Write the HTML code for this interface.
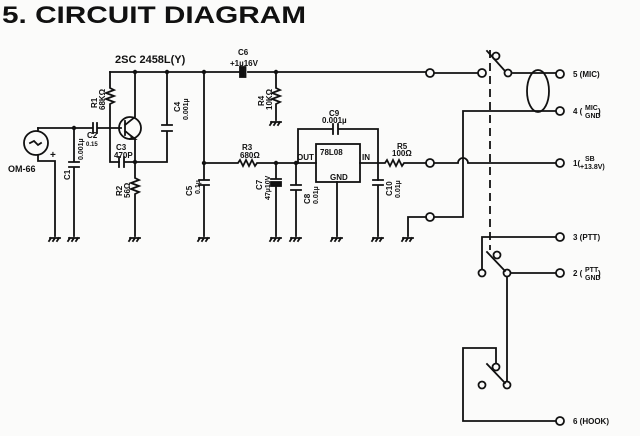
<!DOCTYPE html>
<html><head><meta charset="utf-8">
<style>
html,body{margin:0;padding:0;background:#fff;}
svg{display:block;}
text{font-family:"Liberation Sans",sans-serif;fill:#111;}
</style></head><body>
<svg width="640" height="436" viewBox="0 0 640 436" xmlns="http://www.w3.org/2000/svg">
<rect width="640" height="436" fill="#fbfbfa"/>
<text x="2" y="23" font-size="24" font-weight="bold" textLength="304" lengthAdjust="spacingAndGlyphs">5. CIRCUIT DIAGRAM</text>

<g stroke="#111" stroke-width="1.8" fill="none" stroke-linecap="square">
<path d="M110 72 H240 M248 72 H425"/>
<path d="M435 73 H477"/>
<rect x="240" y="67" width="4" height="10" fill="#111"/>
<path d="M245.5 67 V77"/>
<path d="M110 72 V88 l4 2 l-8 3 l8 3 l-8 3 l8 3 l-4 2 V162 H119"/>
<path d="M119 157 V167 M124 157 V167 M124 162 H167 V131 M162 131 H172 M162 125 H172 M167 125 V72"/>
<circle cx="130" cy="128" r="11"/>
<path d="M125 121 V135 M125 125 L135 117 V72 M125 131 L135 139 V162"/>
<path d="M131 136 L135 139 L130 139" fill="#111"/>
<path d="M135 162 V178 l4 2 l-8 3 l8 3 l-8 3 l8 3 l-4 2 V236"/>
<path d="M38 128 H93 M97 128 H121 M93 123 V133 M97 123 V133"/>
<path d="M74 128 V162 M69 162 H79 M69 167 H79 M74 167 V236"/>
<circle cx="36" cy="143" r="12"/>
<path d="M38 128 V131 M30 143 l4 -2 l4 4 l3 -2"/>
<path d="M38 155 V161 H55 V236"/>
<path d="M204 72 V180 M199 180 H209 M199 185 H209 M204 185 V236"/>
<path d="M204 163 H238 l2 -3 l3 6 l3 -6 l3 6 l3 -6 l3 6 l2 -3 H316"/>
<path d="M276 72 V88 l4 2 l-8 3 l8 3 l-8 3 l8 3 l-4 2 V120"/>
<path d="M276 163 V179 M271 179 H281"/>
<rect x="271" y="182" width="10" height="4" fill="#111"/>
<path d="M276 186 V236"/>
<path d="M296 163 V185 M291 185 H301 M291 190 H301 M296 190 V236"/>
<path d="M298 163 V129 H333 M333 124 V134 M338 124 V134 M338 129 H378 V180"/>
<rect x="316" y="144" width="44" height="38"/>
<path d="M337 182 V236"/>
<path d="M360 163 H385 l2 -3 l3 6 l3 -6 l3 6 l3 -6 l3 6 l2 -3 H426"/>
<path d="M373 180 H383 M373 185 H383 M378 185 V236"/>
<path d="M435 163 H458 A5 5 0 0 1 468 163 H555"/>
<path d="M463 111 H555 M463 111 V217 H435 M426 217 H408 V236"/>
<ellipse cx="538" cy="91" rx="11" ry="21"/>
<path d="M487 51 L505 71 M513 73 H555"/>
<circle cx="496" cy="56" r="3.5"/>
<circle cx="508" cy="73" r="3.5"/>
<path d="M490 50 V250" stroke-dasharray="8 5" stroke-linecap="butt"/>
<path d="M482 237 H555 M482 237 V269"/>
<circle cx="482" cy="273" r="3.5"/>
<path d="M487 252 L505 271"/>
<circle cx="497" cy="255" r="3.5"/>
<circle cx="507" cy="273" r="3.5"/>
<path d="M511 273 H555 M507 277 V381"/>
<circle cx="507" cy="385" r="3.5"/>
<circle cx="482" cy="385" r="3.5"/>
<path d="M487 364 L505 383"/>
<circle cx="496" cy="367" r="3.5"/>
<path d="M496 363 V348 H463 V421 H555"/>
<circle cx="430" cy="73" r="4"/>
<circle cx="482" cy="73" r="4"/>
<circle cx="560" cy="74" r="4"/>
<circle cx="560" cy="111" r="4"/>
<circle cx="430" cy="163" r="4"/>
<circle cx="560" cy="163" r="4"/>
<circle cx="430" cy="217" r="4"/>
<circle cx="560" cy="237" r="4"/>
<circle cx="560" cy="273" r="4"/>
<circle cx="560" cy="421" r="4"/>
<path d="M50 238 h10 M51 238 l-2 3 M55 238 l-2 3 M59 238 l-2 3
M69 238 h10 M70 238 l-2 3 M74 238 l-2 3 M78 238 l-2 3
M130 238 h10 M131 238 l-2 3 M135 238 l-2 3 M139 238 l-2 3
M199 238 h10 M200 238 l-2 3 M204 238 l-2 3 M208 238 l-2 3
M271 122 h10 M272 122 l-2 3 M276 122 l-2 3 M280 122 l-2 3
M271 238 h10 M272 238 l-2 3 M276 238 l-2 3 M280 238 l-2 3
M291 238 h10 M292 238 l-2 3 M296 238 l-2 3 M300 238 l-2 3
M332 238 h10 M333 238 l-2 3 M337 238 l-2 3 M341 238 l-2 3
M373 238 h10 M374 238 l-2 3 M378 238 l-2 3 M382 238 l-2 3
M403 238 h10 M404 238 l-2 3 M408 238 l-2 3 M412 238 l-2 3"/>
</g>
<g fill="#111">
<circle cx="135" cy="72" r="2.2"/><circle cx="167" cy="72" r="2.2"/>
<circle cx="204" cy="72" r="2.2"/><circle cx="276" cy="72" r="2.2"/>
<circle cx="74" cy="128" r="2.2"/><circle cx="135" cy="162" r="2.2"/>
<circle cx="204" cy="163" r="2.2"/><circle cx="276" cy="163" r="2.2"/>
<circle cx="296" cy="163" r="2.2"/>
</g>

<g font-size="8" font-weight="bold">
<text x="115" y="63" font-size="11">2SC 2458L(Y)</text>
<text x="238" y="55">C6</text>
<text x="230" y="66">+1µ16V</text>
<text x="50" y="158" font-size="10">+</text>
<text x="8" y="172" font-size="9">OM-66</text>
<text x="87" y="138">C2</text>
<text x="86" y="146" font-size="6">0.15</text>
<text x="116" y="150">C3</text>
<text x="114" y="158" font-size="8">470P</text>
<text x="242" y="150">R3</text>
<text x="240" y="158">680Ω</text>
<text x="297" y="160">OUT</text>
<text x="320" y="155">78L08</text>
<text x="330" y="180">GND</text>
<text x="362" y="160">IN</text>
<text x="329" y="116">C9</text>
<text x="322" y="123">0.001µ</text>
<text x="397" y="149">R5</text>
<text x="392" y="156">100Ω</text>
<text x="573" y="77">5 (MIC)</text>
<text x="573" y="114">4 (</text><text x="585" y="110" font-size="7">MIC</text><text x="585" y="118" font-size="7">GND</text><text x="598" y="114">)</text>
<text x="573" y="166">1(</text><text x="585" y="161" font-size="7">SB</text><text x="580" y="169" font-size="7">+13.8V)</text>
<text x="573" y="240">3 (PTT)</text>
<text x="573" y="276">2 (</text><text x="585" y="272" font-size="7">PTT</text><text x="585" y="280" font-size="7">GND</text><text x="598" y="276">)</text>
<text x="573" y="424">6 (HOOK)</text>
<text transform="translate(97,108) rotate(-90)">R1</text>
<text transform="translate(105,110) rotate(-90)">68KΩ</text>
<text transform="translate(122,196) rotate(-90)">R2</text>
<text transform="translate(130,198) rotate(-90)">56Ω</text>
<text transform="translate(70,180) rotate(-90)" font-size="8">C1</text>
<text transform="translate(83,160) rotate(-90)" font-size="7">0.001µ</text>
<text transform="translate(180,112) rotate(-90)">C4</text>
<text transform="translate(188,120) rotate(-90)" font-size="7">0.001µ</text>
<text transform="translate(264,106) rotate(-90)">R4</text>
<text transform="translate(272,110) rotate(-90)">10KΩ</text>
<text transform="translate(192,196) rotate(-90)">C5</text>
<text transform="translate(200,194) rotate(-90)" font-size="7">0.1µ</text>
<text transform="translate(262,190) rotate(-90)">C7</text>
<text transform="translate(270,200) rotate(-90)" font-size="7">47µ10V</text>
<text transform="translate(310,204) rotate(-90)">C8</text>
<text transform="translate(318,204) rotate(-90)" font-size="7">0.01µ</text>
<text transform="translate(392,196) rotate(-90)">C10</text>
<text transform="translate(400,198) rotate(-90)" font-size="7">0.01µ</text>
</g>
</svg>
</body></html>
